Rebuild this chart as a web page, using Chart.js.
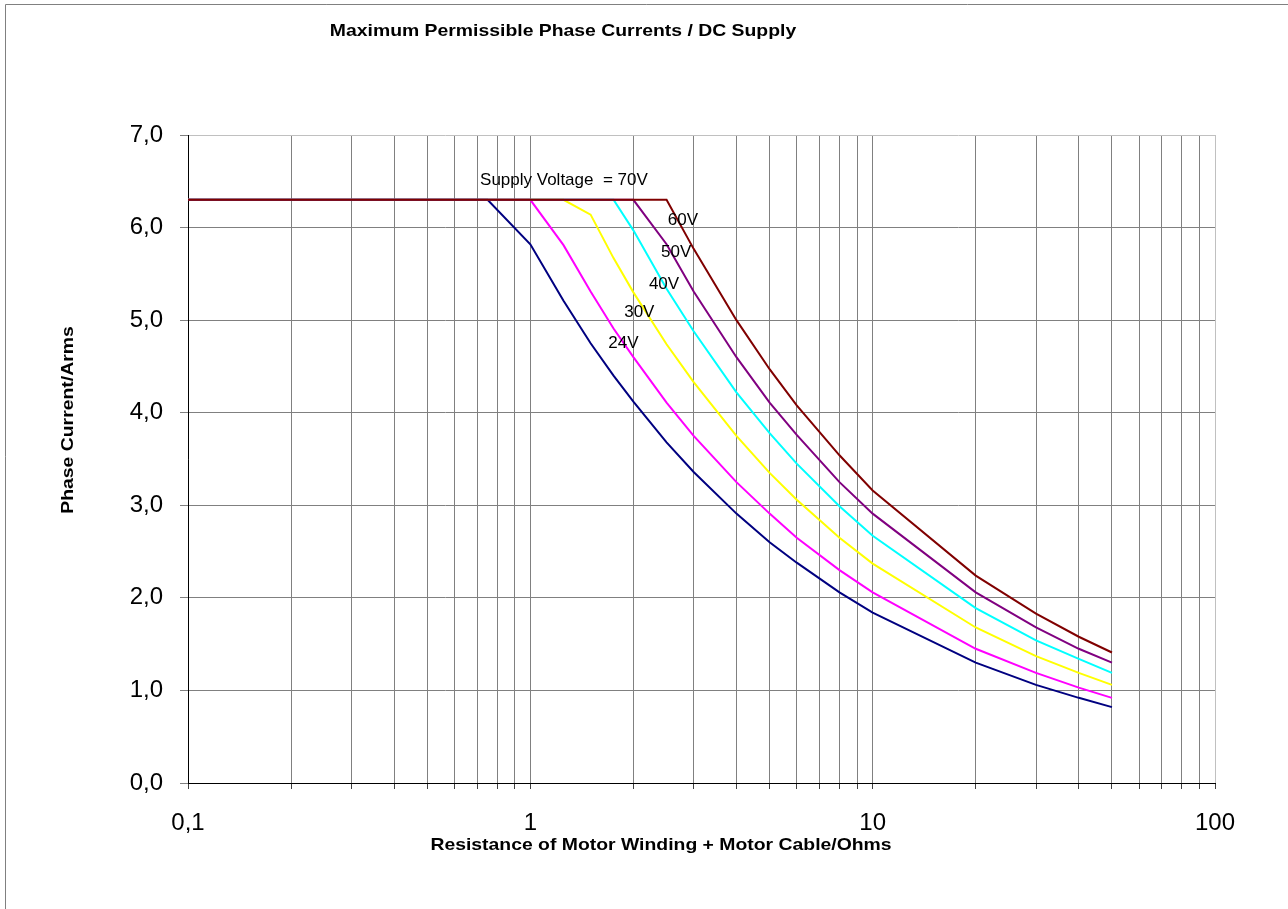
<!DOCTYPE html>
<html>
<head>
<meta charset="utf-8">
<script src="https://cdn.jsdelivr.net/npm/chart.js@4"></script>
<style>
  body { margin: 0; background: #fff; }
  #wrap { width: 1288px; height: 909px; }
</style>
</head>
<body>
<div id="wrap"><canvas id="chart" width="1288" height="909"></canvas></div>
<script>
// Widerstand (Ohm) - gemeinsame X-Werte aller Kurven
const resistance = [0.1, 0.75, 1, 1.25, 1.5, 1.75, 2, 2.5, 3, 4, 5, 6, 8, 10, 20, 30, 40, 50];

// Phasenstrom (Arms) je Versorgungsspannung
const current70V = [6.3, 6.3, 6.3, 6.3, 6.3, 6.3, 6.3, 6.3, 5.77, 5.00, 4.47, 4.08, 3.54, 3.16, 2.24, 1.83, 1.58, 1.41];
const current60V = [6.3, 6.3, 6.3, 6.3, 6.3, 6.3, 6.3, 5.82, 5.31, 4.60, 4.11, 3.76, 3.25, 2.91, 2.06, 1.68, 1.45, 1.30];
const current50V = [6.3, 6.3, 6.3, 6.3, 6.3, 6.3, 5.97, 5.34, 4.88, 4.22, 3.78, 3.45, 2.99, 2.67, 1.89, 1.54, 1.34, 1.19];
const current40V = [6.3, 6.3, 6.3, 6.3, 6.14, 5.67, 5.30, 4.74, 4.33, 3.75, 3.35, 3.06, 2.65, 2.37, 1.68, 1.37, 1.19, 1.06];
const current30V = [6.3, 6.3, 6.3, 5.81, 5.31, 4.91, 4.60, 4.11, 3.75, 3.25, 2.91, 2.65, 2.30, 2.06, 1.45, 1.19, 1.03, 0.92];
const current24V = [6.3, 6.3, 5.82, 5.21, 4.75, 4.40, 4.12, 3.68, 3.36, 2.91, 2.60, 2.38, 2.06, 1.84, 1.30, 1.06, 0.92, 0.82];

const seriesNames = ['70V', '60V', '50V', '40V', '30V', '24V'];
const seriesValues = [current70V, current60V, current50V, current40V, current30V, current24V];
const seriesColors = ['#800000', '#800080', '#00FFFF', '#FFFF00', '#FF00FF', '#000080'];

// Achsen-Ticks
const xGridTicks = [0.1, 0.2, 0.3, 0.4, 0.5, 0.6, 0.7, 0.8, 0.9,
                    1, 2, 3, 4, 5, 6, 7, 8, 9,
                    10, 20, 30, 40, 50, 60, 70, 80, 90, 100];
const xMajorTicks = [0.1, 1, 10, 100];
const xMajorLabels = ['0,1', '1', '10', '100'];
const yTicks = [0, 1, 2, 3, 4, 5, 6, 7];

// Kurvenbeschriftungen (Datenkoordinaten)
const curveLabels = ['Supply Voltage  = 70V', '60V', '50V', '40V', '30V', '24V'];
const curveLabelX = [0.713, 2.52, 2.41, 2.22, 1.88, 1.69];
const curveLabelY = [6.51, 6.08, 5.73, 5.39, 5.08, 4.75];

const FONT = "'Liberation Sans', Arial, sans-serif";

const datasets = seriesNames.map((name, i) => ({
    label: name,
    data: resistance.map((r, j) => ({ x: r, y: seriesValues[i][j] })),
    borderColor: seriesColors[i],
    borderWidth: 2,
    pointRadius: 0,
    tension: 0,
    fill: false
}));

// fette Texte sind im Original etwas breiter
function wideText(ctx, text, x, y, rot) {
    ctx.save();
    ctx.translate(x, y);
    if (rot) ctx.rotate(rot);
    ctx.scale(1.14, 1);
    ctx.fillText(text, 0, 0);
    ctx.restore();
}

// Rahmen, Titel und Beschriftungen
const decorPlugin = {
    id: 'decor',
    beforeDraw(chart) {
        const ctx = chart.ctx;
        ctx.save();
        ctx.fillStyle = '#fff';
        ctx.fillRect(0, 0, chart.width, chart.height);
        ctx.strokeStyle = '#808080';
        ctx.lineWidth = 1;
        ctx.beginPath();
        ctx.moveTo(5.5, chart.height);
        ctx.lineTo(5.5, 4.5);
        ctx.lineTo(chart.width, 4.5);
        ctx.stroke();
        ctx.restore();
    },
    afterDraw(chart) {
        const ctx = chart.ctx;
        const xs = chart.scales.x, ys = chart.scales.y;
        ctx.save();
        ctx.fillStyle = '#000';
        ctx.textBaseline = 'middle';
        ctx.textAlign = 'center';
        ctx.font = 'bold 17px ' + FONT;
        wideText(ctx, 'Maximum Permissible Phase Currents / DC Supply', 563, 31);
        wideText(ctx, 'Resistance of Motor Winding + Motor Cable/Ohms', 661, 845);
        wideText(ctx, 'Phase Current/Arms', 68, 420, -Math.PI / 2);

        ctx.font = '17px ' + FONT;
        ctx.textAlign = 'left';
        curveLabels.forEach((t, i) => {
            ctx.fillText(t, xs.getPixelForValue(curveLabelX[i]), ys.getPixelForValue(curveLabelY[i]));
        });
        ctx.restore();
    }
};

new Chart(document.getElementById('chart').getContext('2d'), {
    type: 'line',
    data: { datasets },
    plugins: [decorPlugin],
    options: {
        responsive: false,
        animation: false,
        devicePixelRatio: 1,
        layout: { padding: { left: 0, top: 135, right: 73, bottom: 0 } },
        plugins: { legend: { display: false }, tooltip: { enabled: false }, title: { display: false } },
        scales: {
            x: {
                type: 'logarithmic',
                min: 0.1,
                max: 100,
                afterFit(scale) { scale.height = 126; },
                afterBuildTicks(scale) { scale.ticks = xGridTicks.map(v => ({ value: v })); },
                grid: {
                    color: ctx => (ctx.tick && ctx.tick.value === 100 ? '#c0c0c0' : '#808080'),
                    tickColor: '#404040',
                    tickLength: 6,
                    lineWidth: 1
                },
                border: { display: true, color: '#000', width: 1 },
                ticks: {
                    autoSkip: false,
                    maxRotation: 0,
                    padding: 20,
                    color: '#000',
                    font: { family: FONT, size: 24 },
                    callback: v => {
                        const k = xMajorTicks.indexOf(v);
                        return k >= 0 ? xMajorLabels[k] : '';
                    }
                }
            },
            y: {
                min: 0,
                max: 7,
                afterFit(scale) { scale.width = 188; },
                afterBuildTicks(scale) { scale.ticks = yTicks.map(v => ({ value: v })); },
                grid: {
                    color: ctx => (ctx.tick && ctx.tick.value === 7 ? '#c0c0c0' : '#808080'),
                    tickColor: '#808080',
                    tickLength: 8,
                    lineWidth: 1
                },
                border: { display: true, color: '#000', width: 1 },
                ticks: {
                    padding: 17,
                    color: '#000',
                    font: { family: FONT, size: 24 },
                    callback: v => v.toFixed(1).replace('.', ',')
                }
            }
        }
    }
});
</script>
</body>
</html>
